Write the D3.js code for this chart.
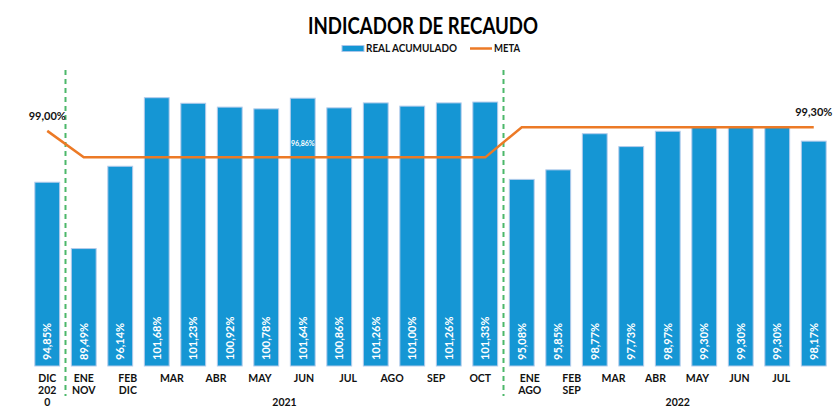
<!DOCTYPE html>
<html>
<head>
<meta charset="utf-8">
<script src="https://cdn.jsdelivr.net/npm/d3@7"></script>
<style>
  body { margin: 0; background: #fff; }
  svg { display: block; }
</style>
</head>
<body>
<svg id="chart"></svg>
<script>
const real = [94.85, 89.49, 96.14, 101.68, 101.23, 100.92, 100.78, 101.64, 100.86, 101.26, 101.00, 101.26, 101.33,
              95.08, 95.85, 98.77, 97.73, 98.97, 99.30, 99.30, 99.30, 98.17];
const meta = [99.00, 96.86, 96.86, 96.86, 96.86, 96.86, 96.86, 96.86, 96.86, 96.86, 96.86, 96.86, 96.86,
              99.30, 99.30, 99.30, 99.30, 99.30, 99.30, 99.30, 99.30, 99.30];
const metaLabels = [0, 7, 21];
const labels2020 = [["DIC", "202", "0"]];
const labels2021 = [["ENE", "NOV"], ["FEB", "DIC"], ["MAR"], ["ABR"], ["MAY"], ["JUN"], ["JUL"], ["AGO"], ["SEP"], ["OCT"]];
const labels2022 = [["ENE", "AGO"], ["FEB", "SEP"], ["MAR"], ["ABR"], ["MAY"], ["JUN"], ["JUL"]];
const groups = ["2021", "2022"];
// bar index where each group starts / ends
const groupBreaks = [1, 13, 22];

const width = 833, height = 408;
const blue = "#1596d4", orange = "#ec7a26", green = "#4cb86a";

const svg = d3.select("#chart").attr("width", width).attr("height", height);

const es = d3.formatLocale({decimal: ",", thousands: ".", grouping: [3], currency: ["", ""]});
const pct = d => es.format(".2f")(d) + "%";

const x = d3.scaleBand()
    .domain(d3.range(real.length))
    .range([29, 832])
    .paddingInner(0.32)
    .paddingOuter(0.16);

const y = d3.scaleLinear().domain([80, 104]).range([366, 69]);
const cx = i => x(i) + x.bandwidth() / 2;

// title
svg.append("text")
    .attr("x", 308).attr("y", 34)
    .attr("textLength", 230)
    .attr("lengthAdjust", "spacingAndGlyphs")
    .attr("font-family", "Lato, sans-serif")
    .attr("font-weight", "bold")
    .attr("font-size", 22)
    .text("INDICADOR DE RECAUDO");

// legend
const lg = svg.append("g").attr("font-family", "Lato, sans-serif")
    .attr("font-weight", "bold").attr("font-size", 11).attr("fill", "#111");
lg.append("rect").attr("x", 342).attr("y", 45.5).attr("width", 22).attr("height", 6)
    .attr("fill", blue).attr("stroke", "#a9c6ea").attr("stroke-width", 1);
lg.append("text").attr("x", 366).attr("y", 52).attr("textLength", 91)
    .attr("lengthAdjust", "spacingAndGlyphs").text("REAL ACUMULADO");
lg.append("line").attr("x1", 470).attr("x2", 492).attr("y1", 48.5).attr("y2", 48.5)
    .attr("stroke", orange).attr("stroke-width", 2.5);
lg.append("text").attr("x", 494).attr("y", 52).attr("textLength", 26)
    .attr("lengthAdjust", "spacingAndGlyphs").text("META");

// bars
svg.append("g").selectAll("rect")
    .data(real)
    .join("rect")
    .attr("x", (d, i) => x(i))
    .attr("y", d => y(d))
    .attr("width", x.bandwidth())
    .attr("height", d => y(80) - y(d))
    .attr("fill", blue)
    .attr("stroke", "#b3cbeb")
    .attr("stroke-width", 1);

// bar value labels
svg.append("g").selectAll("text")
    .data(real)
    .join("text")
    .attr("transform", (d, i) => `translate(${cx(i) + 4},${y(80) - 6}) rotate(-90)`)
    .attr("fill", "#fff")
    .attr("font-family", "Lato, sans-serif")
    .attr("font-weight", "bold")
    .attr("font-size", 11)
    .text(d => pct(d));

// group dividers
svg.append("g").selectAll("line")
    .data(groupBreaks.slice(0, 2))
    .join("line")
    .attr("x1", i => x(i) - x.step() * x.paddingInner() / 2)
    .attr("x2", i => x(i) - x.step() * x.paddingInner() / 2)
    .attr("y1", 70).attr("y2", 396)
    .attr("stroke", green)
    .attr("stroke-width", 2)
    .attr("stroke-dasharray", "5,4");

// meta line
const line = d3.line().x((d, i) => cx(i)).y(d => y(d));
svg.append("path")
    .datum(meta)
    .attr("d", line)
    .attr("fill", "none")
    .attr("stroke", orange)
    .attr("stroke-width", 2.5);

svg.append("g").selectAll("text")
    .data(metaLabels)
    .join("text")
    .attr("x", i => cx(i))
    .attr("y", i => y(meta[i]) - 11)
    .attr("text-anchor", "middle")
    .attr("fill", i => i === 7 ? "#fff" : "#111")
    .attr("font-family", "Lato, sans-serif")
    .attr("font-weight", "bold")
    .attr("font-size", i => i === 7 ? 7 : 11)
    .text(i => pct(meta[i]));

// x labels
const axisFont = g => g.attr("font-family", "Lato, sans-serif")
    .attr("font-weight", "bold").attr("font-size", 10.5).attr("fill", "#111")
    .attr("text-anchor", "middle");

const lx2021 = d3.scalePoint().domain(d3.range(labels2021.length))
    .range([cx(groupBreaks[0]), cx(groupBreaks[1] - 1) - 5]);
const lx2022 = d3.scalePoint().domain(d3.range(labels2022.length))
    .range([cx(groupBreaks[1]) + 8, cx(groupBreaks[1] + labels2022.length) + 4]);

const catLabels = [
  ...labels2020.map((l, i) => ({lines: l, x: cx(i)})),
  ...labels2021.map((l, i) => ({lines: l, x: lx2021(i)})),
  ...labels2022.map((l, i) => ({lines: l, x: lx2022(i)}))
];

const xl = svg.append("g").call(axisFont);
xl.selectAll("text")
    .data(catLabels)
    .join("text")
    .attr("x", d => d.x)
    .attr("y", 382)
    .selectAll("tspan")
    .data(d => d.lines.map(t => ({t, x: d.x})))
    .join("tspan")
    .attr("x", d => d.x)
    .attr("dy", (d, i) => i === 0 ? 0 : 12)
    .text(d => d.t);

const gl = svg.append("g").call(axisFont);
gl.selectAll("text")
    .data(groups)
    .join("text")
    .attr("x", (d, i) => (x(groupBreaks[i]) + x(groupBreaks[i + 1] - 1) + x.bandwidth()) / 2 + (i === 1 ? 10 : 0))
    .attr("y", 406)
    .text(d => d);
</script>
</body>
</html>
